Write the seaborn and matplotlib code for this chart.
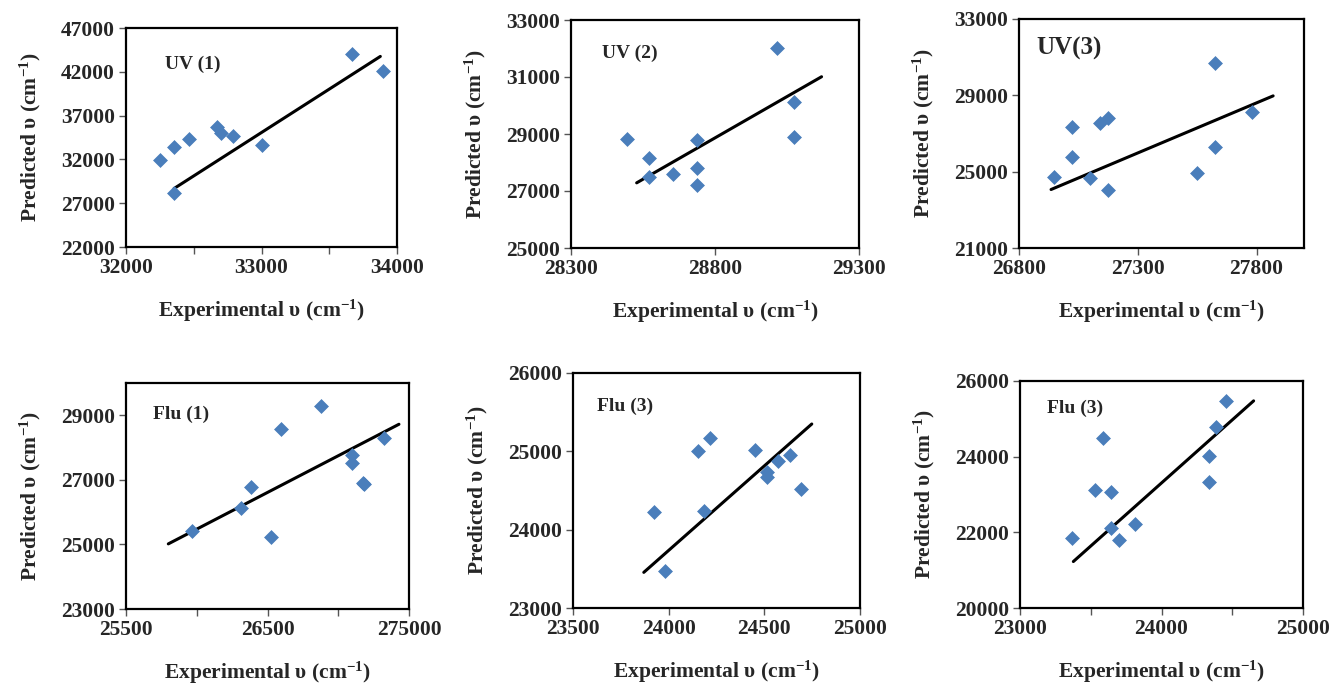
import numpy as np
import pandas as pd
import matplotlib
matplotlib.use("Agg")
import matplotlib.pyplot as plt
import seaborn as sns

sns.set_style("white")
plt.rcParams["font.family"] = ["Liberation Serif", "DejaVu Serif"]
plt.rcParams["font.weight"] = "bold"
plt.rcParams["mathtext.fontset"] = "custom"
plt.rcParams["mathtext.rm"] = "Liberation Serif:bold"
plt.rcParams["mathtext.it"] = "Liberation Serif:bold"
plt.rcParams["mathtext.bf"] = "Liberation Serif:bold"

BLUE = "#4A7EBB"

# ---- data: experimental vs predicted wavenumbers ----
uv1_exp = [32251, 32355, 32355, 32466, 32670, 32700, 32786, 33002, 33667, 33897]
uv1_pred = [31924, 33450, 28221, 34330, 35664, 34977, 34710, 33641, 44023, 42038]
uv1_fit_x = [32355, 33877]
uv1_fit_y = [28679, 43756]

uv2_exp = [28493, 28572, 28572, 28655, 28736, 28736, 28736, 29014, 29075, 29075]
uv2_pred = [28808, 28141, 27496, 27614, 28785, 27813, 27204, 32005, 30108, 28902]
uv2_fit_x = [28528, 29170]
uv2_fit_y = [27286, 31009]

uv3_exp = [26948, 27025, 27025, 27100, 27142, 27174, 27174, 27550, 27624, 27624, 27779]
uv3_pred = [24731, 27324, 25747, 24678, 27534, 27832, 24065, 24906, 30687, 26308, 28147]
uv3_fit_x = [26935, 27870]
uv3_fit_y = [24065, 28971]

flu1_exp = [25964, 26313, 26381, 26523, 26593, 26878, 27095, 27095, 27177, 27185, 27323]
flu1_pred = [25429, 26118, 26787, 25244, 28588, 29278, 27765, 27508, 26890, 26860, 28310]
flu1_fit_x = [25799, 27429]
flu1_fit_y = [25017, 28722]

flu3a_exp = [23922, 23980, 24153, 24216, 24185, 24449, 24515, 24515, 24573, 24632, 24693]
flu3a_pred = [24226, 23468, 25000, 25170, 24234, 25021, 24732, 24672, 24881, 24957, 24523]
flu3a_fit_x = [23870, 24748]
flu3a_fit_y = [23455, 25349]

flu3b_exp = [23366, 23531, 23585, 23642, 23642, 23698, 23814, 24333, 24333, 24387, 24455]
flu3b_pred = [21841, 23110, 24494, 23067, 22103, 21797, 22208, 24030, 23329, 24792, 25475]
flu3b_fit_x = [23377, 24651]
flu3b_fit_y = [21228, 25475]

titles = ["UV (1)", "UV (2)", "UV(3)", "Flu (1)", "Flu (3)", "Flu (3)"]

panels = [
    dict(x=uv1_exp, y=uv1_pred, fx=uv1_fit_x, fy=uv1_fit_y,
         xlim=(32000, 34000), ylim=(22000, 47000),
         xmaj=[32000, 33000, 34000], xlab=None, xmin=[32500, 33500],
         yt=[22000, 27000, 32000, 37000, 42000, 47000],
         box=[126, 397, 28, 247], tpos=(0.144, 0.836), tsize=14),
    dict(x=uv2_exp, y=uv2_pred, fx=uv2_fit_x, fy=uv2_fit_y,
         xlim=(28300, 29300), ylim=(25000, 33000),
         xmaj=[28300, 28800, 29300], xlab=None, xmin=[],
         yt=[25000, 27000, 29000, 31000, 33000],
         box=[571, 859, 20, 248], tpos=(0.108, 0.855), tsize=14),
    dict(x=uv3_exp, y=uv3_pred, fx=uv3_fit_x, fy=uv3_fit_y,
         xlim=(26800, 28000), ylim=(21000, 33000),
         xmaj=[26800, 27300, 27800], xlab=None, xmin=[],
         yt=[21000, 25000, 29000, 33000],
         box=[1019, 1304, 19, 248], tpos=(0.06, 0.873), tsize=18),
    dict(x=flu1_exp, y=flu1_pred, fx=flu1_fit_x, fy=flu1_fit_y,
         xlim=(25500, 27500), ylim=(23000, 30000),
         xmaj=[25500, 26500, 27500], xlab=["25500", "26500", "275000"],
         xmin=[26000, 27000],
         yt=[23000, 25000, 27000, 29000],
         box=[126, 409, 383, 609], tpos=(0.095, 0.863), tsize=14),
    dict(x=flu3a_exp, y=flu3a_pred, fx=flu3a_fit_x, fy=flu3a_fit_y,
         xlim=(23500, 25000), ylim=(23000, 26000),
         xmaj=[23500, 24000, 24500, 25000], xlab=None, xmin=[],
         yt=[23000, 24000, 25000, 26000],
         box=[573, 860, 373, 608], tpos=(0.084, 0.86), tsize=14),
    dict(x=flu3b_exp, y=flu3b_pred, fx=flu3b_fit_x, fy=flu3b_fit_y,
         xlim=(23000, 25000), ylim=(20000, 26000),
         xmaj=[23000, 24000, 25000], xlab=None, xmin=[23500, 24500],
         yt=[20000, 22000, 24000, 26000],
         box=[1020, 1303, 381, 608], tpos=(0.095, 0.88), tsize=14),
]

W, H = 1331, 684
fig = plt.figure(figsize=(W / 100, H / 100), dpi=100)

for title, p in zip(titles, panels):
    l, r, t, b = p["box"]
    ax = fig.add_axes([l / W, 1 - b / H, (r - l) / W, (b - t) / H])
    pts = pd.DataFrame({"exp": p["x"], "pred": p["y"]})
    fit = pd.DataFrame({"exp": p["fx"], "pred": p["fy"]})
    sns.lineplot(data=fit, x="exp", y="pred", color="black", linewidth=2.2, ax=ax)
    sns.scatterplot(data=pts, x="exp", y="pred", marker="D", s=50, color=BLUE,
                    edgecolor=BLUE, linewidth=0.5, ax=ax, zorder=3)
    ax.set_xlim(*p["xlim"])
    ax.set_ylim(*p["ylim"])
    ax.set_xticks(p["xmaj"])
    ax.set_xticklabels(p["xlab"] if p["xlab"] else [str(v) for v in p["xmaj"]])
    ax.set_xticks(p["xmin"], minor=True)
    ax.set_yticks(p["yt"])
    ax.set_yticklabels([str(v) for v in p["yt"]])
    ax.tick_params(axis="both", which="both", direction="out", length=5, width=1,
                   color="#555555", labelsize=15.5, bottom=True, left=True, pad=3)
    for sp in ax.spines.values():
        sp.set_color("black")
        sp.set_linewidth(1.6)
    ax.set_xlabel("Experimental υ (cm$^{-1}$)", fontsize=15.5, fontweight="bold",
                  labelpad=14)
    ax.set_ylabel("Predicted υ (cm$^{-1}$)", fontsize=15.5, fontweight="bold",
                  labelpad=13)
    ax.text(p["tpos"][0], p["tpos"][1], title, transform=ax.transAxes,
            fontsize=p["tsize"], fontweight="bold", ha="left", va="center")
    ax.grid(False)

fig.savefig("out.png", dpi=100)
